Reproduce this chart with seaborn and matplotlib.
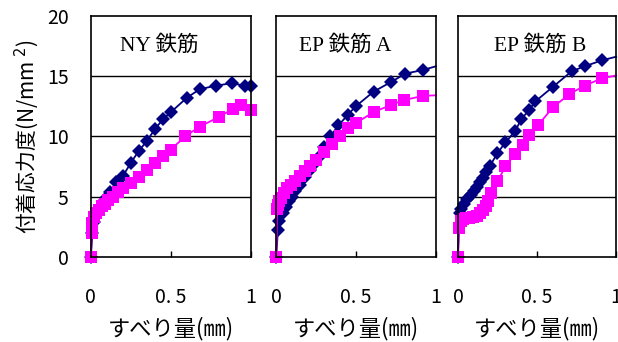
import numpy as np
import pandas as pd
import seaborn as sns
from matplotlib import pyplot as plt

# panel titles
TITLES = ['NY 鉄筋', 'EP 鉄筋 A', 'EP 鉄筋 B']

# NY rebar
ny_navy_x = [0, 0.01, 0.02, 0.04, 0.06, 0.08, 0.10, 0.12, 0.16, 0.20, 0.25, 0.30, 0.35,
             0.40, 0.45, 0.50, 0.60, 0.68, 0.78, 0.88, 0.96, 1.0]
ny_navy_y = [0, 2.0, 2.9, 3.6, 4.1, 4.6, 5.0, 5.4, 6.2, 6.7, 7.8, 8.8, 9.6,
             10.6, 11.4, 12.0, 13.2, 13.9, 14.2, 14.4, 14.2, 14.2]
ny_pink_x = [0, 0.005, 0.01, 0.02, 0.03, 0.05, 0.07, 0.09, 0.11, 0.14, 0.17, 0.20, 0.25,
             0.30, 0.35, 0.40, 0.45, 0.50, 0.59, 0.68, 0.80, 0.89, 0.94, 1.0]
ny_pink_y = [0, 2.0, 2.8, 3.3, 3.6, 3.9, 4.2, 4.4, 4.7, 5.0, 5.4, 5.7, 6.1,
             6.6, 7.2, 7.8, 8.4, 8.9, 10.0, 10.8, 11.6, 12.3, 12.6, 12.2]

# EP rebar A
epa_navy_x = [0, 0.01, 0.02, 0.04, 0.06, 0.08, 0.10, 0.12, 0.15, 0.18, 0.21, 0.24, 0.27,
              0.30, 0.34, 0.39, 0.45, 0.50, 0.61, 0.72, 0.81, 0.92, 1.0]
epa_navy_y = [0, 2.2, 3.0, 3.6, 4.1, 4.6, 5.0, 5.5, 6.0, 6.6, 7.2, 7.8, 8.3,
              9.1, 10.0, 10.9, 11.8, 12.5, 13.7, 14.5, 15.2, 15.5, 15.8]
epa_pink_x = [0, 0.005, 0.01, 0.02, 0.03, 0.05, 0.07, 0.09, 0.12, 0.15, 0.18, 0.21, 0.25,
              0.30, 0.35, 0.40, 0.45, 0.50, 0.61, 0.72, 0.80, 0.92, 1.0]
epa_pink_y = [0, 4.0, 4.3, 4.6, 4.9, 5.3, 5.7, 6.0, 6.3, 6.7, 7.1, 7.5, 8.0,
              8.7, 9.4, 10.0, 10.7, 11.1, 12.0, 12.6, 13.0, 13.35, 13.4]

# EP rebar B
epb_navy_x = [0, 0.01, 0.02, 0.04, 0.06, 0.08, 0.10, 0.12, 0.14, 0.16, 0.18, 0.20, 0.25,
              0.30, 0.36, 0.40, 0.45, 0.49, 0.60, 0.72, 0.80, 0.91, 1.0]
epb_navy_y = [0, 3.6, 4.0, 4.4, 4.8, 5.1, 5.5, 5.8, 6.2, 6.5, 7.0, 7.5, 8.6,
              9.5, 10.4, 11.4, 12.2, 12.9, 14.1, 15.4, 15.8, 16.3, 16.6]
epb_pink_x = [0, 0.006, 0.02, 0.035, 0.05, 0.07, 0.095, 0.12, 0.14, 0.16, 0.175, 0.19,
              0.21, 0.25, 0.30, 0.36, 0.41, 0.45, 0.505, 0.60, 0.705, 0.80, 0.91, 1.0]
epb_pink_y = [0, 2.4, 3.0, 3.1, 3.2, 3.25, 3.3, 3.4, 3.6, 3.9, 4.2, 4.6,
              5.3, 6.25, 7.5, 8.5, 9.3, 10.1, 10.9, 12.4, 13.5, 14.2, 14.8, 15.05]

X_TICKS = [0, 0.5, 1]
X_TICK_LABELS = ['0', '0. 5', '1']
Y_TICKS = [0, 5, 10, 15, 20]

NAVY = '#000080'
PINK = '#FF00FF'

plt.rcParams['font.family'] = ['Noto Sans CJK JP', 'DejaVu Sans']


def main():
    fig = plt.figure(figsize=(6.18, 3.42), dpi=100)
    lefts = [0.147, 0.447, 0.741]
    widths = [0.259, 0.258, 0.256]
    title_x = [0.425, 0.43, 0.52]
    series = [
        (ny_navy_x, ny_navy_y, ny_pink_x, ny_pink_y, False),
        (epa_navy_x, epa_navy_y, epa_pink_x, epa_pink_y, True),
        (epb_navy_x, epb_navy_y, epb_pink_x, epb_pink_y, True),
    ]

    for i, (nx, ny, px, py, drop_last) in enumerate(series):
        ax = fig.add_axes([lefts[i], 0.249, widths[i], 0.705])
        for yv in [5, 10, 15]:
            ax.axhline(yv, color='black', lw=1.0, zorder=1)

        navy = pd.DataFrame({'x': nx, 'y': ny})
        pink = pd.DataFrame({'x': px, 'y': py})
        me_n = slice(0, len(nx) - 1) if drop_last else None
        me_p = slice(0, len(px) - 1) if drop_last else None

        sns.lineplot(x='x', y='y', data=navy, sort=False, color=NAVY, lw=1.3,
                     marker='D', markersize=7.5, markeredgewidth=0, markevery=me_n,
                     clip_on=False, zorder=3, ax=ax)
        sns.lineplot(x='x', y='y', data=pink, sort=False, color=PINK, lw=1.3,
                     marker='s', markersize=8.5, markeredgewidth=0, markevery=me_p,
                     clip_on=False, zorder=4, ax=ax)

        ax.set_xlim(0, 1)
        ax.set_ylim(0, 20)
        ax.set_xticks(X_TICKS)
        ax.set_xticklabels(X_TICK_LABELS, fontsize=14)
        ax.tick_params(axis='x', direction='in', length=4, width=1, pad=22)
        ax.set_yticks(Y_TICKS)
        if i == 0:
            ax.set_yticklabels([str(v) for v in Y_TICKS], fontsize=14)
            ax.set_ylabel('付着応力度(N/mm $^{2}$)', fontsize=15, labelpad=4)
        else:
            ax.set_yticklabels([])
            ax.set_ylabel('')
        ax.tick_params(axis='y', length=0, pad=16)
        ax.set_xlabel('すべり量(㎜)', fontsize=16, labelpad=6)
        for s in ax.spines.values():
            s.set_linewidth(1.2)
            s.set_zorder(5)
        ax.text(title_x[i], 0.875, TITLES[i], transform=ax.transAxes,
                ha='center', va='center', fontsize=15.5,
                family=['Liberation Serif', 'Noto Sans CJK JP'])

    fig.savefig('out.png', dpi=100)


if __name__ == '__main__':
    main()
